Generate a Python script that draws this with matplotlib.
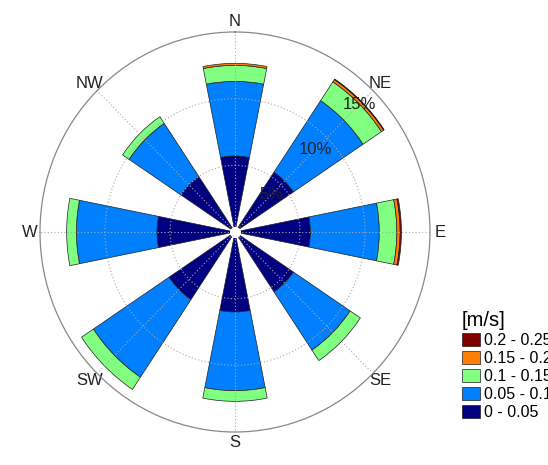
import numpy as np
import matplotlib
matplotlib.use("Agg")
import matplotlib.pyplot as plt

plt.rcParams["font.family"] = ["Liberation Sans", "DejaVu Sans"]

# wind directions and frequency (%) per speed bin
directions = ["N", "NE", "E", "SE", "S", "SW", "W", "NW"]
dir_angles = [0, 45, 90, 135, 180, 225, 270, 315]
bin_labels = ["0 - 0.05", "0.05 - 0.1", "0.1 - 0.15", "0.15 - 0.2", "0.2 - 0.25"]
bin_colors = ["#000080", "#0080ff", "#80ff80", "#ff8000", "#800000"]

freq_0_005 = [5.7, 5.4, 5.8, 5.4, 6.0, 6.1, 6.0, 5.0]
freq_005_01 = [5.6, 6.45, 5.3, 5.25, 5.9, 7.0, 6.2, 4.8]
freq_01_015 = [1.2, 1.7, 1.35, 0.95, 0.8, 1.1, 0.75, 0.6]
freq_015_02 = [0.15, 0.2, 0.25, 0.0, 0.0, 0.0, 0.0, 0.0]
freq_02_025 = [0.0, 0.05, 0.1, 0.0, 0.0, 0.0, 0.0, 0.0]

ring_values = [5, 10]
ring_labels = ["5%", "10%", "15%"]
ring_label_pos = [4.0, 8.7, 13.5]
r_max = 15

fig = plt.figure(figsize=(5.48, 4.65), dpi=100)
ax = fig.add_axes([(235 - 195) / 548, (465 - 232 - 200) / 465, 390 / 548, 400 / 465],
                  projection="polar")
ax.set_aspect("auto")
ax.set_theta_zero_location("N")
ax.set_theta_direction(-1)

theta = np.deg2rad(dir_angles)
width = np.deg2rad(22.5)
all_bins = [freq_0_005, freq_005_01, freq_01_015, freq_015_02, freq_02_025]
bottom = np.zeros(len(directions))
handles = []
for vals, col, lab in zip(all_bins, bin_colors, bin_labels):
    vals = np.array(vals)
    keep = vals > 0
    b = ax.bar(theta[keep], vals[keep], width=width, bottom=bottom[keep], color=col,
               edgecolor="#202020", linewidth=0.5, label=lab, zorder=1)
    handles.append(b)
    bottom = bottom + vals

# small hole in the middle
ax.plot([0], [0], "o", color="white", ms=7, zorder=5)

ax.set_ylim(0, r_max)
ax.set_rgrids(ring_values, labels=["", ""])
ax.set_thetagrids(dir_angles, labels=directions, fontsize=12, color="#222222")
ax.tick_params(axis="x", pad=-3)
ax.grid(True, color="#aaaaaa", linestyle=(0, (1, 2)), linewidth=0.8)
ax.spines["polar"].set_color("#888888")
ax.spines["polar"].set_linewidth(0.9)

for lab, r in zip(ring_labels, ring_label_pos):
    ax.text(np.deg2rad(45), r, lab, fontsize=12, color="#222222",
            ha="center", va="center", zorder=6)

leg = fig.legend(handles[::-1], bin_labels[::-1], title="[m/s]",
                 loc="upper left", bbox_to_anchor=(462 / 548, 1 - 311 / 465),
                 frameon=False, fontsize=11.5, title_fontsize=14.5,
                 handlelength=1.15, handleheight=0.9, handletextpad=0.25,
                 labelspacing=0.18, borderpad=0, borderaxespad=0,
                 alignment="left")

fig.savefig("out.png", dpi=100)
